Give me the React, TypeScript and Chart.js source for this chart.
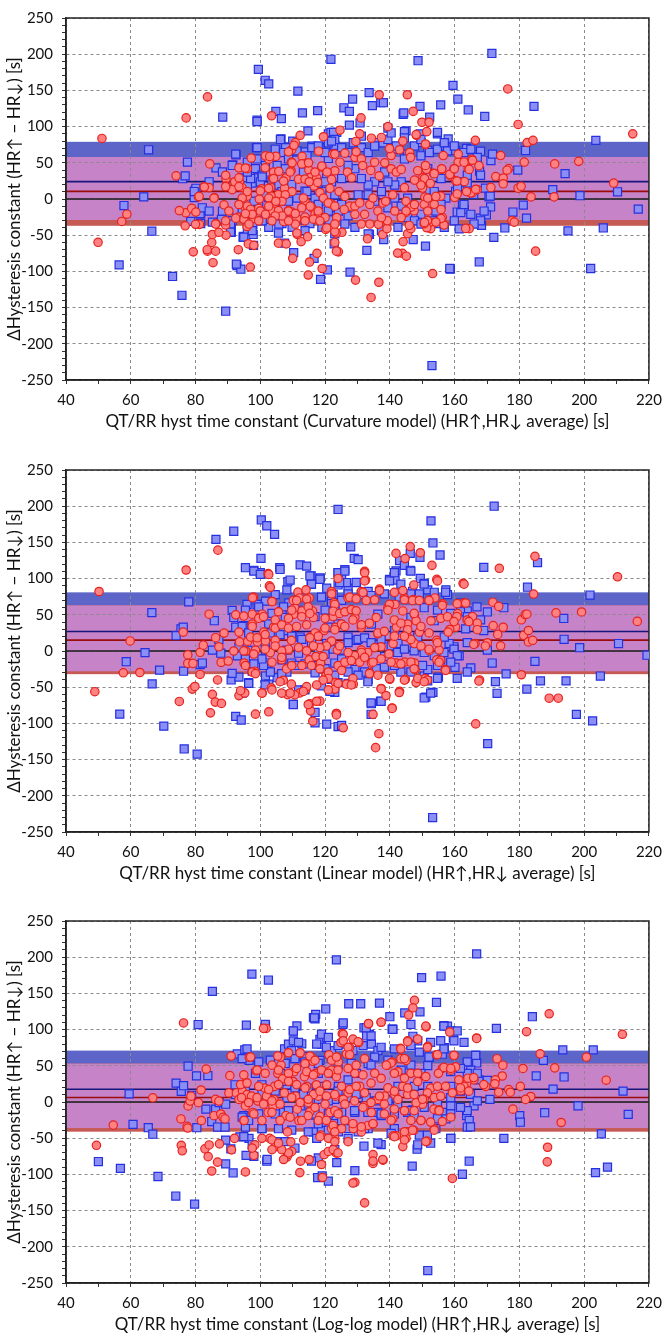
import { useEffect, useRef } from "react";
import { Chart, registerables } from "chart.js";

Chart.register(...registerables);

// ---------- axis definitions ----------
const xMin = 40;
const xMax = 220;
const xMinorStep = 10;
const xLabelStep = 20;
const yMin = -250;
const yMax = 250;
const yMinorStep = 10;
const yLabelStep = 50;

const yTitle = "ΔHysteresis constant (HR↑ − HR↓) [s]";
const models = ["Curvature model", "Linear model", "Log-log model"];

// ---------- limits of agreement / means (per panel) ----------
const blueBands: [number, number][] = [[-29, 79], [-28, 81], [-36, 71]];
const redBands: [number, number][] = [[-37, 58], [-32, 63], [-41, 53]];
const blueMeans = [24, 27, 17.6];
const redMeans = [10.5, 15, 6.3];

// ---------- panel 1: Curvature model ----------
const curvatureBlue: [number, number][] = [
  [121.8,193],[148.7,191],[99.4,179],[101.5,164],[102.6,159],[111.6,149],[133.6,147],[159.5,157],[161,138],[164.2,123],[169.3,114],[128.5,138],[134.6,129],[137.2,133],[138,133],[125.8,126],[127.5,121],[113,119],[117.7,122],[104.8,121],[106.5,111],[99,109],[99,107],[88.4,113],[149.3,128],[155.7,130],[144.1,117],[152.3,113],[127.5,102],[130.8,105],[123.6,92],[114.7,94],[106.4,83],[145,94],[149.4,90],[154.7,90],[158,83],[168,66],[89.3,-155],[92.8,-92],[94,-97],[105.6,-47],[97.8,-49],[94.7,-53],[91,-46],[110.3,-74],[116.6,-82],[120.7,-98],[118.6,-111],[127.7,-101],[122.8,-62],[132.9,-71],[147.2,-56],[151,-65],[158.7,-97],[167.6,-87],[133.7,-49],[138.1,-56],[91,-35],[88.3,-30],[81.6,-21],
  [65.5,68],[64,3],[57.9,-9],[77.5,51],[76,28],[76.8,32],[79.9,12],[79.6,2],[81.4,-20],[86.3,43],[92.5,61],[91.5,47],[98.8,71],[110,80],[121,90],[107.8,71],[111.1,65],[113.8,65],[115.9,73],[118.4,71],[121,56],[123,74],[120.5,29],[97.5,22],[99.2,29],[98.5,42],[100.5,33],[95,29],[96,18],[99.5,-7],[102.6,2],[101.5,-18],[105.5,-3],[109.7,20],[107.2,13],[113.8,11],[117.9,13],[119.4,-3],[122,-12],[81.6,-34],[85.2,-32],[90.3,-25],[91.3,-30],
  [56.4,-91],[66.5,-44.5],[72.9,-107],[75.8,-133],[78.5,-31],[88,-28],[91,-43],[92.6,-90],[94.8,-51.6],[96,-42.7],[97.9,-64],[97.7,-35],[107.5,-61],[106.7,-34],[109.7,-22],[113.8,-29],[115.3,-34],[121.2,-29],
  [171.5,201],[184.5,128],[203.6,81],[181.9,67],[194.1,35],[190.3,13],[198.7,4.5],[210.3,10],[216.7,-14],[179.5,40],[181.2,-8.5],[182.2,-26.5],[178,-18],[171.1,-11],[169.8,-22],[168,-26.5],[170.6,3],[162.4,-8.5],[160.8,-18],[163,-14],[167.7,38.6],[171.2,53],[171.7,62],[163.7,70],[160.3,67],[156.8,73],[154.7,92],[144.3,119],[121.8,92],[139.4,98],[144.5,93],[149.6,78],[151.7,67],[145.5,62],[141.4,69],[136.3,78],
  [153,-230],[158.5,-96],[172.1,-53],[175.5,-40],[195,-44],[205.9,-40],[202,-96],[168.3,-36.5],[154.7,-30],[155.2,-34],[152.1,13],[160.3,10.6],[163.9,21.9],[169.5,15],[171,3.9],[165.9,6],
  [92.4,62],[96,50.8],[99,71],[99,55.3],[101.6,46.3],[104.6,68.7],[106.2,82.2],[107.2,64.2],[108.7,55.3],[107.7,41.8],[105.2,46.3],[103.6,26.1],[100,23.8],[97,28.3],[96,37.3],[91.3,46.3],[88.3,37.3],[84.2,23.8],[80.1,14.8],[79.6,10.3],[82.1,-12.1],[88.3,-16.6],[90.8,-34.6],[94.4,-14.4],[98,-3.1],[101.1,5.8],[105.7,19.3],[106.7,10.3],[111.3,1.3],[114.4,10.3],[115.9,21.6],[113.3,37.3],[114.4,59.7],[115.9,71],[117.9,73.2],[120,64.2],[121,77.7],[122.6,92.1],[123,82.2],[125.1,71],[127.1,64.2],[128.7,77.7],[131.2,71],[133.3,64.2],[135.3,73.2],[137.9,77.7],[139.4,82.2],[142,73.2],[144.5,84.5],[147.6,73.2],[149.6,59.7],[152.2,64.2],[154.7,68.7],[156.8,77.7],[157.8,66.5],[159.9,73.2],[162.9,64.2],[165,68.7],[168,32.8],[167,57.5],[163.9,32.8],[161.9,23.8],[160.9,14.8],[162.9,-7.6],[161.9,-18.9],[157.3,1.3],[153.7,10.3],[155.8,-7.6],[154.2,-16.6],[149.6,-21.1],[145.5,1.3],[143.5,23.8],[141.5,19.3],[139.4,23.8],[138.4,37.3],[135.3,23.8],[133.3,19.3],[131.2,28.3],[129.2,41.8],[127.1,46.3],[125.1,28.3],[122,23.8],[120,23.8],[119,10.3],[116.9,1.3],[117.9,-7.6],[121,-16.6],[124.1,-16.6],[125.1,-7.6],[127.1,-23.4],[130.2,5.8],[133.3,5.8],[135.3,-3.1],[139.4,-12.1],[141.5,1.3],[143.5,-9.9],[145.5,-25.6],[147.6,-30.1],[149.6,-34.6],[142.5,-39.1],[137.4,-43.6],[133.3,-48.1],[129.2,-39.1],[126.1,-34.6],[123,-48.1],[119,-39.1],[113.8,-43.6],[109.8,-39.1],[105.7,-34.6],[102.6,-39.1],[100.6,-30.1],[97.5,-43.6],[94.9,-52.6],[90.8,-45.8],[84.2,-16.6],[169.1,-16.6],[168,-30.1],[166,-34.6],[165,-21.1],[159.9,-30.1],[161.4,-41.3],[156.8,-39.1],[153.2,-30.1],[100.6,30.5],[111.3,66.5],[122,80],[131.2,86.7],[140.4,91.2],[149.6,82.2],[104.1,-3.1],[108.7,-3.1],[123,5.8],[137.4,10.3],[144.5,55.3],[151.7,41.8],[155.8,28.3]
];

const curvatureRed: [number, number][] = [
  [83.7,141],[103.5,115],[136.7,144],[145.4,144],[131.1,112],[139.4,100],[147.2,121],[149.9,106],[152.1,106],[151.4,93],[166.4,81],[112.3,88],[110.8,78],[124.6,95],[130.7,90],[134.3,84],[137.4,85],[148.2,88],[151,75],[144,80],[118,66],[134.2,-136],[129.4,-112],[136.6,-115],[114.8,-105],[119.1,-96],[115.2,-87],[117.5,-75],[110,-82],[153.2,-103],[143.9,-75],[145.1,-79],[124.1,-73],[96.9,-94],[85.4,-88],[79.3,-73],[83.7,-72],[86.2,-72],[93.2,-70],[85,-60],[96.3,-62],[98,-64],[105.6,-61],[108,-62],[112.6,-59],[114.6,-52],[111.4,-49],[123,-60],[125.2,-46],[123.4,-47],[120.2,-42],[133.1,-55],[137.8,-49],[139.1,-41],[136.5,-35],[145.5,-48],[144.1,-59],[152.6,-41],[152.4,-32],[156.7,-36],[164.5,-41],[81.2,-35],[86.3,-34],[89.4,-50],
  [51.1,83.6],[77.1,112],[74,32],[84.4,48.5],[77,-19],[75,-16],[58.8,-21],[57.2,-31],[80.9,3],[82.7,17],[88.8,-8],[85.8,2],[89.4,28],[89.4,18],[94.3,16],[93.6,24],[96,42],[93.4,43],[91.3,13],[100.4,14],[101.5,43],[102.6,55],[104.8,59],[103.2,16],[103.8,29],[107.5,15],[107.9,29],[109.7,68],[109.6,51],[109.5,39],[112.9,59],[113.8,49],[115,40],[115.5,30],[116.6,18],[119.5,86],[119,44],[117.4,29],[118.4,9],[122.4,62],[123,39],[122,27],[105.5,6],[103.3,4],[104.3,-7],[99.7,0],[96,4],[95.4,-12],[97.5,-25],[93.2,-25],[95,-25],[113.8,-3],[115.9,-12],[116.9,-21],[122,-7],
  [49.9,-59.8],[78.8,-13],[80.1,-18],[76.8,-37],[80,-35],[83.6,-70],[85.2,-49],[87.2,-46],[89.3,-36],[95.9,-38],[94.9,-27],[99.5,-13],[103.6,-16],[105.6,-16],[107.2,-31],[108.7,-16],[111.3,-47],[109.7,-18],[111.3,-27],[113.8,-25],[117.9,-20],[120.5,-40],[123,-45],[123.5,-72],
  [176.4,152],[179.6,103],[215,90],[182.4,78],[184.2,81],[174.2,60],[176.7,42],[181.5,51],[190.9,48.5],[198.3,52],[209.1,22],[183.6,3],[190.7,3],[179.6,15],[180.5,17.5],[172.7,31],[175,29],[175,21],[171.2,16],[167.5,46],[165.3,55],[164.2,42],[161.1,51],[159.8,42],[158.7,32],[156.5,60],[156,41],[153.5,35.5],[151.3,41],[150.2,30],[149.7,22.5],[150.8,2.7],[154.3,2.7],[160,2],[160.3,25],[163,24],[165.5,8.5],[148.1,89],[151,76],[143,68],[140.4,60],[129.5,79.5],
  [185,-72],[163.4,-40.6],[177.7,-29.8],[178.4,-32],[151.6,-29.8],[151.4,-39.7],[150.6,-34],[146.5,-41],[146,-36.5],[142.4,-74.7],[176.2,39.8],[167,13],[164.9,8.4],[160.8,7],[155.7,3.9],[156.2,-25.3],[153.7,-7.3],[150.6,-7.3],[150.1,15.1],[147.5,-16.3],[145,-18.6],
  [89.3,32.8],[92.1,23.8],[89.3,17.1],[93.4,29.2],[95.4,42.7],[97.2,56.6],[93.4,17.1],[96,10.3],[94.4,1.3],[93.4,-7.6],[96,-9.9],[97,-14.4],[94.9,-27.9],[98,-27],[100,11.2],[102.6,14.8],[102.6,1.3],[101.6,59.7],[102.9,58.8],[104.1,37.3],[105.7,38.2],[104.1,28.3],[107.2,24.7],[109.2,37.3],[109.8,49.9],[108.7,65.1],[110.4,74.1],[112.8,48.5],[114.9,49.9],[111.8,27.4],[113.8,27.4],[115.1,23.8],[116.9,37.3],[117.7,22.9],[119,45.4],[120.6,37.3],[121.5,14.8],[123,62],[124.6,50.8],[126.1,63.3],[126.9,37.3],[128.2,29.2],[129.2,57.5],[129.6,65.1],[131.2,55.3],[131.6,46.3],[134.1,39.5],[135.3,50.8],[136.7,31.9],[138.4,49.9],[139.9,69.6],[140.4,41.8],[142,37.3],[143.5,40.9],[146.1,64.2],[146.4,57.5],[148.6,39.1],[150.7,28.3],[151,46.3],[153.7,35],[149.6,19.3],[152.5,21.6],[151.7,1.3],[154.2,3.6],[156,41.8],[158.5,34.1],[159.9,41.8],[161.1,62],[162.9,50.8],[164.5,40.9],[165.5,53.5],[166.5,13.5],[163.7,10.3],[160.7,24.7],[109.8,10.3],[107.7,5.8],[106.7,-3.1],[104.8,-3.1],[102.6,-9.9],[100,-16.6],[97.5,-21.1],[95.4,-20.2],[108.7,-16.6],[110.8,-20.2],[112.8,-12.1],[113.3,1.3],[115.4,-9.9],[116.4,-27.9],[117.9,-16.6],[119.5,1.3],[121,-5.4],[123,-9.9],[124.3,10.3],[126.1,3.6],[127.6,-9.9],[129.2,-9.9],[130.7,-5.4],[132.2,-21.1],[133.8,-7.6],[134.8,1.3],[136.3,-16.6],[137.9,-5.4],[138.7,-3.1],[139.2,-30],[137.4,-25.6],[133.8,-34.6],[131.2,-34.6],[129.2,-21.1],[125.9,-14.4],[123.6,-25.6],[123,-34.6],[120,-25.6],[118.4,-30.1],[113.8,-30.1],[110.8,-34.6],[108.7,-30.1],[106.7,-23.4],[104.6,-23.4],[103.6,-30.1],[101.6,-21.1],[99.5,-30.1],[96.5,-34.6],[92.4,-26.5],[90.3,-16.6],[89.3,-30.1],[86.2,-34.6],[85.7,1.3],[84.2,15.7],[82.7,16.6],[81.1,3.6],[145,-3.1],[146.6,-11.2],[147.6,-7.6],[145,-16.6],[143.5,-25.6],[141.5,-16.6],[140.9,5.8],[144.5,15.7],[147.6,26.1],[151.7,-16.6],[155.8,-14.4],[155.8,-27],[154.2,-31.9],[150.7,-32.3]
];

// ---------- panel 2: Linear model ----------
const linearBlue: [number, number][] = [
  [56.6,-87.2],[58.6,-14.8],[64.4,-2.2],[66.5,53],[66.6,-45.4],[68.9,-26.5],[70.2,-103.8],[77.9,67.9],[75.5,30.5],[76.2,32.8],[74,21.1],[76.3,-27.9],[76.5,-135.3],[80.5,-142.5],[81.4,-18.9],[82.1,-16.6],[86.3,154.2],[85.8,41.8],[85.2,1.3],[87.2,15.7],[87.8,-3.1],[91,-40],[93.4,-36],[91.3,-31],[91.8,165.4],[91.3,56.2],[91.8,46.3],[92.4,32.8],[93.4,5.8],[92.9,-6.7],[92.4,-90.3],[94.1,-95.3],
  [95.4,115],[98,111.5],[100,108.3],[100.2,128],[100.3,181],[102,173],[104.4,161],[106,115],[94.9,35],[95.9,64.3],[96.4,-43.6],[97.5,-27.9],[96.2,1.3],[99,64.3],[100.5,46.3],[101.6,68.8],[102.6,37.3],[101.6,1.3],[102.1,-16.6],[99.5,14.8],[101.6,-34.6],[102.6,-45.8],[105.2,-36.9],
  [104.6,77.8],[106.7,55.3],[107.7,46.3],[107.2,28.3],[108.2,1.3],[106.7,-12.1],[109.7,-16.6],[111.8,-3.1],[112.3,19.3],[108.8,66.5],[108.2,84.5],[108.5,95.7],[109.2,98],[112.3,119],[114.3,117.3],[115.7,103.8],[115.7,92.1],[118.5,101],
  [110.2,-73.7],[116.9,-84.9],[116.9,-99.3],[120.5,-101],[118.9,-48],[116.9,-30.1],[118.4,-16.6],[120.5,10.3],[121,32.8],[122.5,77.8],[123,55.3],[120.5,86.7],[124,107.9],[123.5,5.8],[124,-43.6],[123,-57.1],[124,-104.3],[124,195.5],
  [172.2,200],[152.7,179.8],[153.3,149.2],[155.5,132.6],[169,115.5],[185.6,122.2],[182.5,88.1],[201.8,77.3],[193.7,44.9],[193.8,16.2],[210.6,10.3],[198.6,4.5],[219.4,-5.8],[184.8,-14.4],[182.3,-52.6],[186.5,-41.3],[194.4,-41.3],[205,-34.6],[197.6,-87.6],[202.6,-96.6],
  [175.2,59.8],[170.1,53.9],[171.6,-16.6],[172.6,-42.3],[173.1,-58.4],[175.9,-31.5],[170.2,-128],[153.2,-230],[165,-23.4],[160.1,-22.5],[161.4,-6.7],[163.4,30.5],[170.1,1.3],
  [151.1,-63.8],[153.3,-57.1],[151.7,-41.3],[155,-36],[150.6,-34.6],[137.1,-69.7],[134.3,-72.8],[125.1,-102.9],
  [127.9,143.8],[129,128],[130.2,126.3],[126.1,112.4],[125.1,104.7],[129.7,94.8],[124,91.2],[139.9,98.9],[141.9,110.6],[143,125],[144.5,118.2],[146.3,111.5],[141.6,98],[146.3,134.8],[149.3,129.4],[149.4,100.2],
  [150.6,93.5],[151.7,84.5],[157.3,84.5],[157.8,77.8],[161.9,66.5],[163.9,55.3],[169,28.3],[159.8,5.8],[158.3,10.3],[155.7,-12.1],[151.7,-25.6],[156.8,19.3],[131.2,77.8],[133.3,82.2],[127.1,86.7],[122,68.8],[124,37.3],[127.1,19.3],[125.1,1.3],[123,-16.6],[129.2,-25.6],[133.3,-39.1],[138.4,-7.6],[142.5,10.3],[141.5,28.3],[146.5,46.3],[136.3,50.8],[134.3,37.3],[129.7,14.8],[132.2,-7.6],[122,-39.1],[147,82.2],[150.6,59.8],[153.7,41.8],[148.6,19.3],
  [98,110.3],[100,105.8],[106.1,112.6],[115.3,103.6],[118.4,99.1],[115.8,92.3],[124,108.1],[126.1,110.3],[126.6,94.6],[129.6,94.6],[124.5,94.6],[139.9,96.8],[143.4,92.3],[146.5,110.3],[141.4,108.1],[150.6,92.3],[118.9,74.4],[122,65.4],[125.1,69.9],[127.1,78.9],[134.2,76.6],[138.3,78.9],[142.9,74.4],[146.5,78.9],[149.1,78.9],[153.7,81.1],[157.2,81.1],[154.7,56.4],[158.8,51.9],[161.8,54.2],[163.9,47.4],[166.9,60.9],[168,42.9],[120,56.4],[123,60.9],[116.9,47.4],[111.8,56.4],[107.2,60.9],[103.6,51.9],[99.5,60.9],[95.4,56.4],[94.4,33.9],[96.4,24.9],[99.5,7],[101.5,11.5],[103.1,24.9],[106.1,22.7],[109.7,20.5],[112.8,16],[115.8,11.5],[117.9,-2],[120,-4.2],[122.5,2.5],[125.1,-11],[127.1,11.5],[130.2,16],[132.2,18.2],[134.2,11.5],[137.3,16],[140.4,7],[142.4,-2],[144.5,2.5],[147.5,0.2],[150.6,-2],[153.7,-6.5],[156.7,-2],[159.8,2.5],[163.9,11.5],[160.8,-6.5],[158.8,-15.5],[154.7,-20],[150.1,-20],[146.5,-29],[143.4,-29],[141.4,-20],[138.3,-22.2],[135.8,-24.5],[132.2,-29],[130.2,-33.4],[127.1,-29],[123,-33.4],[120,-24.5],[116.9,-20],[113.8,-17.7],[111.2,-20],[108.2,-29],[106.6,-31.2],[103.1,-29],[101,-20],[100.5,-11],[98,-17.7],[95.4,-11],[96.4,-44.7],[94.4,-58.2],[101.5,-46.9],[111.8,-53.7],[113.8,-53.7],[121.5,-55.9],[127.1,-44.7],[133.2,-42.4],[134.2,-71.6],[137.3,-69.4],[134.2,-87.4],[150.6,-64.9],[152.6,-58.2],[163.9,-29],[154.7,-37.9],[160.8,-37.9],[110.2,-73.9]
];

const linearRed: [number, number][] = [
  [50.2,82.2],[48.9,-56.2],[57.7,-30.1],[59.8,13.9],[62.8,-29.7],[77.1,111.9],[76.2,26.1],[75,-69.7],[77.6,-5.4],[77.6,-17.1],[79.2,-17.1],[79,-52.6],[79.8,-49],[84.6,-85.4],[85.2,-59.8],[86.1,-70.6],[86.8,-40],[88,-72.4],[81.4,-1.8],[81.4,-32.4],[82.4,8.1],[84.2,50.8],[87.2,5.8],[86.2,18.4],[86.9,139.3],[87.9,-15.7],[90.1,-13.9],[88.8,24.7],[91.8,0],[93.4,26.1],[93.6,12.6],
  [92.4,49.9],[95,-16.6],[95.5,0],[96.1,13.5],[97,19.3],[97.5,37.3],[97.9,74.6],[97.5,50.8],[98.5,1.3],[98.3,-27.9],[93.4,-61.6],[95.2,-58],[93.9,-54.8],[98.5,-87.2],
  [99.1,12.6],[99.7,46.3],[100.6,50.8],[101.1,26.1],[101.6,13.9],[102.4,107],[102.8,89.9],[103.6,68.8],[104.1,32.8],[104.6,14.8],[103.1,-2.2],[103.4,-50.8],[100.6,-58],[102.6,-84],
  [106.6,-12.1],[107.1,-40.4],[108.1,-24.7],[108.4,-60.2],[108.8,1.3],[109.6,14.8],[110.3,50.8],[110.6,59.8],[111.6,81.3],[112.1,73.3],[112.9,55.3],[114.1,84.5],[115.1,73.3],[116.1,55.3],[116.4,46.3],[115.4,19.3],[115.1,-12.1],[117.2,-7.6],[118.6,-16.6],[118.4,-69.2],[116.2,-97],[115.5,-82.7],[115.3,-72.8],[114.1,-52.6],[112.1,-58],[110.6,-60.7],[109.6,-45.8],
  [119.7,28.3],[119.4,-7.6],[120.2,-34.6],[121.4,11.7],[122,82.2],[122.5,47.6],[122.8,66.5],[123.2,32.8],[123.8,1.3],[123.2,-43.6],[123.5,-86.3],[124,100.2],
  [184.8,130.8],[184.4,78.7],[173.8,114.2],[210.3,102.5],[216.4,40.9],[191.3,52.6],[199.2,53.9],[180.6,43.1],[181.8,50.3],[182.3,50.8],[181.3,21.6],[182.8,28.3],[182.8,12.6],[184.1,14.8],[180.6,-32.8],[189.2,-65.2],[192,-65.2],[166.5,-100.7],
  [162.6,93.5],[171.8,67.4],[173.6,61.6],[171.9,35],[175,32.8],[174.2,7.2],[173.3,22.9],[170.1,11.2],[166.3,10.3],[167.7,-40],
  [162.9,66.5],[165.5,47.6],[163.9,42.7],[160.9,51.7],[160.7,47.6],[160.3,32.8],[158.5,29.7],[158,26.1],[157.1,-25.6],[156.3,65.2],
  [155.2,1.3],[154.5,-12.1],[155.7,-13],[154.5,14.8],[152.7,41.8],[152.2,69.7],[153.9,73.3],[154.5,98.9],[153,118.2],
  [149.4,135.7],[146.3,144.3],[144.7,127.6],[141.9,134.8],[147.4,91.2],[147.3,71],[147.6,49.9],[148.1,41.8],[149.1,26.1],[147.1,12.6],[147.6,-16.6],[147.8,-25.6],[148.1,-43.6],[150.9,-38.2],[152.2,0.4],[147.6,10.3],[144.8,-39.1],[143,-55.7],[140.7,-78.7],[136.6,-114.2],[135.6,-133.5],[134.8,-87.6],[137.3,-51.7],[125.6,-106.1],[123.5,-86.3],[140,-39],
  [132.2,110.1],[132.5,98],[136.8,85.4],[131.2,82.2],[127.1,73.3],[123,64.3],[125.1,37.3],[129.2,46.3],[131.2,32.8],[135.8,46.3],[136.3,23.8],[139.4,59.8],[141.6,64.3],[142,32.8],[144.5,73.3],[144,55.3],[145.5,37.3],[137.3,5.8],[134.3,-16.6],[131.2,1.3],[128.2,-12.1],[125.1,-25.6],[123,-52.6],[126.6,-45.8],[128.7,-45.8],[133.8,-30.1],[138.8,-61.6],[145.5,19.3],[141,10.3],[139.7,-4],[142,-16.6],[144.5,-15.3],
  [97.6,73.5],[103.6,68.1],[110.2,69.9],[114.3,71.7],[111.2,69.9],[114.8,60.9],[109.7,56.4],[105.6,54.2],[99.5,45.2],[94.9,48.3],[101,47.4],[104.6,42.9],[108.7,45.2],[112.8,47.4],[115.3,51.9],[120,45.2],[122.5,55],[124.5,51.9],[126.1,54.2],[128.1,57.3],[129.6,55.5],[131.7,81.1],[132.7,69.9],[135.3,70.8],[136.8,83.4],[141.4,81.1],[144,83.4],[139.9,64.5],[144.5,70.8],[147,69.9],[149.1,69.9],[152.1,69.9],[156.2,63.1],[160.8,65.4],[163.4,66.3],[122,78.9],[127.6,74.4],[129.6,72.1],[97.5,33.9],[99,18.2],[101.5,22.7],[104.6,31.7],[106.6,36.2],[108.7,31.7],[111.2,33.9],[114.3,36.2],[116.9,24.9],[117.9,20.5],[115.3,18.2],[120,31.7],[123,29.4],[126.1,33.9],[128.6,42.9],[131.2,36.2],[133.7,38.4],[136.3,24.9],[139.4,56.4],[141.4,42.9],[143.4,38.4],[145.5,29.4],[147.5,51.9],[149.6,33.9],[152.1,24.9],[155.7,45.2],[157.8,47.4],[159.8,40.7],[164.4,40.7],[167,38.4],[167,29.4],[169.5,7],[165.9,9.2],[154.7,11.5],[152.1,2.5],[149.6,7],[146.5,16],[144.5,20.5],[141.4,20.5],[138.3,27.2],[135.3,4.7],[133.2,-2],[131.2,-2],[129.1,-6.5],[127.1,-2],[124.5,7],[122,13.7],[120.4,7],[118.4,4.7],[116.4,7],[114.3,0.2],[111.8,4.7],[108.7,2.5],[106.6,0.2],[104.6,7],[101.5,2.5],[98,-4.2],[94.9,0.2],[95.4,-20],[97.5,-29],[98.5,-31.2],[103.6,-15.5],[106.6,-8.7],[109.7,-20],[112.8,-20],[115.8,-20],[118.4,-24.5],[121,-29],[124,-20],[126.1,-15.5],[128.1,-13.2],[130.7,-15.5],[132.2,-8.7],[134.8,-15.5],[137.3,-11],[140.4,-15.5],[143.4,-17.7],[146.5,-15.5],[147.5,-24.5],[151.6,-40.2],[155.2,-15.5],[157.2,-26.7],[144.5,-40.2],[139.9,-37.9],[136.3,-33.4],[133.7,-31.2],[128.6,-37.9],[125.1,-26.7],[121,-37.9],[119.4,-40.2],[117.4,-46.9],[114.3,-49.2],[124,-44.7],[121,-53.7],[106.1,-42.4],[103.6,-53.7],[100.5,-58.2],[109.2,-58.2],[106.6,-58.2],[113.3,-55.9],[114.8,-73.9],[117.4,-69.4],[123.5,-88.3],[128.1,-46.9],[137.3,-52.3],[142.9,-57.3],[140.7,-79.3],[148.6,-37.9],[150.6,-42.4],[154.7,96.8],[162.9,92.3],[102.6,105.8],[132.2,108.1],[132.2,96.8],[103.1,87.9],[167.5,-41.5]
];

// ---------- panel 3: Log-log model ----------
const loglogBlue: [number, number][] = [
  [50,-82.2],[56.8,-91.7],[59.5,11.2],[60.7,-31],[65.4,-35.5],[66.8,-44.5],[68.4,-102.9],[73.9,-129.9],[79.7,-141.1],[74,26.1],[75.6,14.8],[76.3,22.5],[77.7,49.4],[78.8,9],[80.3,36],[83.8,36.4],[80.4,-35.5],
  [85.2,152.8],[80.8,107],[95.7,106.1],[97.4,176.6],[102.5,168.5],[101.6,106.1],
  [83.2,-9.9],[85,-27],[86.8,-34.6],[86.2,-9.9],[87.3,-0.9],[89.3,-3.1],[89.1,-34.6],[89.3,-52.6],[90.9,-64.7],[89.3,-85.4],[91.6,-98],[93.7,-48.1],[96.5,-50.3],[98,-75.1],[95.6,-73.7],[95.4,-34.6],[94.9,-18.9],[92.4,10.3],[92.2,23.8],[92.9,66.5],[95.2,71.9],[96.5,57.5],
  [98.5,39.6],[100.5,23.8],[101.6,3.6],[100.5,-36.9],[102,-81.8],[105.1,-54.8],[105.6,-36.9],[107.7,-54.8],[107.2,-14.4],[108.2,5.8],[108.2,23.8],[106.2,39.6],[105.6,53],[107.5,73.3],[108.7,80],[109.7,71],[110.2,98],[110.2,84.5],[111.3,105.2],[112.8,80.4],[113.6,62.5],[114.8,19.3],[115.9,3.6],[116.4,-18],[116.4,-41.3],[117.4,-50.3],[117.7,-104.3],[119.1,-102],[117.9,-77.3],[118.9,-39.1],[119.4,-23.4],[118.1,21.6],[117.9,39.6],[118.4,57.5],[118.9,79.8],[118.4,86.5],[116.9,114.8],[116.4,116.6],[117.1,121.1],[120.5,89],[120.2,128.5],[121.2,71],[122,39.6],[122.5,3.6],[123,-18.9],[123.5,196.4],
  [166.8,204.5],[149.8,171.7],[155.8,174],[127.3,135.7],[131,135.7],[136.8,136.6],[154.4,137.5],[140,117.8],[144.6,123.1],[149.3,124.5],[125.5,107],
  [172.9,101.6],[184,117.8],[156.7,105.6],[140.7,100.7],
  [193.4,71.9],[202.8,71.9],[187.4,57.5],[185.2,36],[193.8,34.6],[190.4,17.8],[212,15.1],[213.6,-17.1],[198.1,-5.4],[187.8,-14.8],[180.1,-18.9],[180.3,-27.9],[175.2,-50.3],[205.3,-44],[203.5,-97.5],[207.2,-89.9],
  [164.5,-81.8],[162.4,-99.8],[151.7,-232.8],[146.9,-88.5],[148.4,-65.2],[158.8,-50.3],
  [166.5,64.3],[166.8,53.9],[165,44],[163.9,39.6],[167.5,30.6],[170.1,29.7],[170.9,3.6],[166,-5.4],[163.7,-18.9],[164.5,-25.6],[163.9,-34.6],[158.8,-5.4],[156.2,-14.4],[154.2,-36.9],[157.3,-23.4],[149.1,-45.8],[147.1,-10.8],[148.6,3.6],[137.3,-58.9],[132,-61.1],[129.2,-94.8],[121,-109.2],
  [157.8,104.7],[159.6,88.5],[156.8,75],[156.2,66],[152.2,61.6],[151.7,50.3],[146.5,79.6],[147.1,90.8],[148.6,84.5],[140.9,100.2],[133.7,93.5],[134.3,80],[132,102.5],[132.8,91.2],[125.1,80],[122,71],[136.3,71],[135.3,62],[133.3,53],[129.7,39.6],[127.1,30.6],[124.1,21.6],[123,3.6],[125.1,-14.4],[129.2,-14.4],[132.2,-5.4],[136.3,-14.4],[139.4,3.6],[142.5,21.6],[143.5,44],[147.6,21.6],[149.6,39.6],[151.7,21.6],[158.8,21.6],[145.5,-14.4],[141.4,-36.9],[137.3,-18.9],[133.3,-36.9],[130.2,-41.3],[127.1,-50.3],[124.1,-41.3],[122.5,-14.4],
  [101.5,107.1],[110.2,98.1],[116.7,116.1],[118.9,93.6],[121,89.1],[125.6,109.3],[134.2,91.3],[132.7,102.6],[140.9,100.3],[146.5,107.1],[156.7,104.8],[158.8,98.1],[160.8,98.1],[155.7,84.6],[111.8,82.4],[117.4,80.1],[120.4,75.6],[124,77.9],[128.6,71.1],[131.7,77.9],[137.3,75.6],[141.4,73.4],[146.5,77.9],[149.1,68.9],[152.6,82.4],[156.7,73.4],[159.8,84.6],[162.9,82.4],[166.5,64.4],[163.9,55.4],[95.9,73.4],[94.4,59.9],[99.5,55.4],[103.1,57.7],[107.7,53.2],[110.7,59.9],[113.8,55.4],[117.9,53.2],[124,50.9],[128.1,53.2],[134.2,50.9],[139.4,57.7],[146.5,50.9],[152.1,62.1],[158.8,41.9],[161.8,46.4],[167,39.7],[95.4,15],[97.5,6],[100.5,10.5],[104.6,15],[107.7,28.5],[110.7,19.5],[113.3,10.5],[114.8,-3],[117.9,3.7],[121,1.5],[124,15],[127.1,6],[129.6,10.5],[132.7,6],[135.8,1.5],[139.4,1.5],[142.4,-3],[146.5,-12],[150.6,-7.5],[154.7,-3],[158.8,6],[161.8,15],[164.9,10.5],[167,1.5],[163.9,-12],[161.8,-7.5],[158.8,-16.5],[154.7,-23.2],[147.5,-21],[141.4,-16.5],[137.3,-16.5],[133.2,-14.2],[129.1,-12],[125.1,-25.5],[121,-16.5],[116.9,-16.5],[112.8,-16.5],[108.7,-12],[104.6,-16.5],[99.5,-16.5],[96.4,-25.5],[94.4,-21],[94.9,-47.9],[97.5,-59.1],[100.5,-36.7],[109.7,-38.9],[114.8,-41.2],[117.9,-30],[121,-38.9],[127.1,-36.7],[132.2,-36.7],[136.3,-56.9],[140.4,-43.4],[148.6,-59.1],[152.6,-56.9],[158.8,-50.2],[164.9,-34.4],[151.6,-45.7],[123,-65.9],[110.7,-63.6],[102.1,-79.4],[115.8,-81.6],[123.6,-83.8]
];

const loglogRed: [number, number][] = [
  [49.4,-59.8],[54.6,-31.9],[66.8,5.8],[76.3,109.2],[75.6,-59.8],[75.9,-67.4],[75.5,-23.4],[77.4,-33.7],[77.6,-36],[77.7,-5.4],[78.3,1.3],[78.6,8.1],[81.7,16.6],[80.9,-0.9],[81.8,-25.6],[83.3,45.4],
  [82.9,-64.7],[83.9,-75.5],[84.2,-59.3],[85,-95.3],[86.8,-83.1],[87.4,-57.8],[86.2,3.6],[87.2,1.3],[85.7,-18.9],[87.8,-16.6],[88.5,-21.1],[89.1,-23.4],[90.3,12.6],[91.1,-66.1],[91,63.4],[90.6,36.4],[92.6,12.6],[93.4,3.6],[94.5,14.8],
  [92,-50.3],[95.4,-96.6],[96.6,61.6],[95.6,27],[95.9,10.3],[95.4,-5.4],[94.9,-25.6],[97.3,8.1],[97.7,-14.4],[98.3,-59.3],[98,-73.7],[98.7,43.1],[99.3,1.3],
  [101.8,101.6],[101.4,19.3],[101.9,8.1],[102.4,-14.4],[102.9,-50.3],[103.9,-5.4],[104.6,-61.6],[104.2,3.6],[104.4,21.6],[105.4,39.6],[106.4,50.8],[106.2,62],[106.9,31.9],[107.4,12.6],[107.9,-18.9],[108.4,-41.3],[108.2,-76],[108.6,-72.8],[109.7,-68.3],[109.4,-55],[110.1,28.3],[110.4,41.8],[110.9,8.1],[111.4,-9.9],[111.9,-25.6],[112.2,-97.5],[112.4,-81.8],[113.4,-52.6],
  [112.3,67.4],[113.8,53],[113.6,35],[114.3,21.6],[114.8,-0.9],[115.3,-13.5],[115.8,62],[116.3,56.2],[117,39.6],[117.3,23.8],[117.9,8.1],[118.4,-19.8],[118.7,-45.8],[118.9,-86.3],[119.2,-104.3],[119.7,-72.8],[120.5,23.8],[121,41.8],[121.2,65.2],[121.5,-14.4],[122,-36.9],[122.9,-68.3],[123,-50.3],[123.2,8.1],[123.5,35],[123.7,62],
  [189.2,121.8],[182.2,97.1],[211.8,93.5],[166.8,88.5],[186.4,66.5],[200.7,62],[190.9,47.2],[206.8,30.1],[181.1,46.3],[173.6,13.5],[178,-9.9],[183.5,7.6],[181.9,3.6],[192.9,-28.3],[188.7,-62.5],[188.6,-82.7],[159.3,-105.6],
  [173.1,59.8],[174.9,50.8],[174.7,35.9],[172.6,30.6],[172.4,25.2],[169.6,21.6],[176.7,17.1],[177.2,13.5],[180.3,21.6],[166,30.6],[163.7,25.2],[162.9,21.6],[161.9,15.7],
  [147.6,140.3],[147.1,130],[145.8,120.1],[151.2,103.8],[158.5,96.6],[159.8,64.3],[154.4,65.2],[151.7,76.9],[145.5,84.5],[143.3,74.2],[140.7,55.3],[137.3,110.1],[133.4,107.9],[130.4,82.2],[125.3,94.4],[124.9,82.2],[127.6,75.5],[126.6,66.5],[124.1,55.3],[122,44],
  [160.3,48.5],[158.8,44],[156.2,46.3],[155,39.6],[152.6,19.3],[151.6,12.6],[150.6,3.6],[150.1,-3.1],[153.6,-9.9],[156.2,-27],[155.2,-10.8],[151.5,-54],[153.7,-36.9],[149.6,-25.6],[147.4,-39.1],[145.5,-41.3],[145,-50.3],[144,-61.6],[142,-46.7],[141,-46.7],[137.9,-80.4],[134.8,-84.9],[132.2,-139.3],[129.2,-111],[128.6,-111.9],[127.1,-54.8],[123.5,-70.6],[121,-68.3],
  [145.5,10.3],[144,21.6],[142.5,41.8],[141.5,10.3],[139.4,50.8],[137.3,32.8],[136.3,3.6],[134.3,-14.4],[132.2,-5.4],[130.7,21.6],[129.2,39.6],[127.1,12.6],[125.6,3.6],[124,-14.4],[122.5,-32.4],[125.1,-36.9],[128.7,-36.9],[131.2,-41.3],[133.3,-32.4],[134.8,-30.1],[138.4,8.1],[140.9,-23.4],[142.5,3.6],[144.5,-12.1],[148.1,-0.9],[148.6,28.3],[146.5,39.6],[145,57.5],
  [101,101.7],[97,62.1],[105.4,63.5],[108.7,68],[112.3,68],[115.3,63.5],[116.9,57.7],[122,57.7],[123.5,62.1],[125.6,93.6],[125.6,84.6],[127.1,75.6],[128.6,86.9],[130.2,83.3],[127.6,65.3],[132.2,59.9],[133.4,108.4],[137.3,110.2],[140.4,54.1],[143.4,59.9],[143.4,73.4],[145.5,83.3],[144.5,59.9],[148.6,86.9],[151.6,75.6],[151.1,104.8],[154.7,65.3],[156.7,47.8],[158.8,46.4],[159.8,64.4],[166.8,87.8],[164.1,32.9],[165.9,33.8],[169,24],[99,44.2],[101.5,39.7],[103.6,50.9],[105.6,44.2],[108.7,39.7],[111.2,46.4],[114.3,41.9],[116.4,37.4],[118.9,44.2],[121,39.7],[124,44.2],[127.1,46.4],[129.6,50.9],[131.7,37.4],[135.3,39.7],[138.9,50.9],[141.4,39.7],[144.5,33],[148.6,39.7],[151.1,35.2],[154.7,21.7],[157.2,21.7],[161.3,30.7],[164.4,15],[94.9,37.4],[93.9,24],[95.9,26.2],[99.5,21.7],[102.6,17.2],[105.6,24],[108.7,28.5],[111.2,24],[113.8,19.5],[116.4,10.5],[118.4,15],[120.4,8.2],[123,10.5],[125.1,21.7],[127.6,17.2],[129.6,21.7],[132.2,12.7],[134.2,26.2],[136.8,8.2],[139.4,19.5],[141.4,15],[145.5,19.5],[147.5,10.5],[150.1,3.7],[153.7,6],[155.7,8.2],[159.3,12.7],[161.8,19.5],[94.2,6],[96.4,-0.7],[99,6],[101,-3],[103.6,1.5],[106.1,-3],[109.7,6],[112.3,-0.7],[114.8,3.7],[116.9,-7.5],[120,-3],[123,-12],[126.1,-3],[129.1,1.5],[131.7,-7.5],[134.2,-0.7],[138.3,-3],[141.4,-9.7],[144.5,-12],[147.5,-12],[95,-25.5],[98,-16.5],[100.5,-25.5],[103.6,-14.2],[106.1,-25.5],[109.2,-21],[112.8,-25.5],[114.8,-18.7],[117.9,-25.5],[120.4,-25.5],[124,-16.5],[126.1,-25.5],[128.6,-30],[131.2,-34.4],[134.8,-30],[138.3,-16.5],[140.4,-25.5],[146.5,-25.5],[149.6,-25.5],[152.6,-27.7],[155.2,-12],[158.8,-21],[153.7,-38.9],[147,-38.9],[144.5,-41.2],[141.4,-47.9],[151.1,-54.7],[144.5,-52.4],[134.8,-72.6],[137.8,-79.4],[134.8,-81.6],[123,-41.2],[121,-50.2],[118.4,-47.9],[123,-54.7],[122.5,-65.9],[124,-70.4],[115.1,-79.4],[108.7,-70.4],[106.6,-65.9],[107.2,-79.4],[103.6,-52.4],[105.6,-56.9],[100.5,-50.2],[97.5,-63.6],[103.6,-65.9]
];

const panelBlue = [curvatureBlue, linearBlue, loglogBlue];
const panelRed = [curvatureRed, linearRed, loglogRed];

// ---------- styling ----------
const FONT = "Lato, 'Noto Sans', sans-serif";
const BLUE_ONLY = "#5d65c9";
const RED_ONLY = "#c65a55";
const OVERLAP = "#c783c8";
const PANEL_H = 452;
const PANEL_TOPS = [0, 452, 903];

const bandsPlugin = {
  id: "bands",
  beforeDraw(chart: any, _a: any, opts: any) {
    const { ctx, chartArea: a, scales } = chart;
    const y = scales.y;
    const fill = (lo: number, hi: number, c: string) => {
      if (hi <= lo) return;
      const t = y.getPixelForValue(hi);
      const b = y.getPixelForValue(lo);
      ctx.fillStyle = c;
      ctx.fillRect(a.left, t, a.right - a.left, b - t);
    };
    ctx.save();
    fill(opts.blue[0], opts.blue[1], BLUE_ONLY);
    fill(opts.red[0], opts.red[1], RED_ONLY);
    fill(Math.max(opts.blue[0], opts.red[0]), Math.min(opts.blue[1], opts.red[1]), OVERLAP);
    ctx.restore();
  },
  beforeDatasetsDraw(chart: any, _a: any, opts: any) {
    const { ctx, chartArea: a, scales } = chart;
    const y = scales.y;
    const hline = (v: number, c: string, w: number) => {
      const p = y.getPixelForValue(v);
      ctx.strokeStyle = c;
      ctx.lineWidth = w;
      ctx.beginPath();
      ctx.moveTo(a.left, p);
      ctx.lineTo(a.right, p);
      ctx.stroke();
    };
    ctx.save();
    hline(opts.blueMean, "#16167a", 1.6);
    hline(opts.redMean, "#9a0c0c", 1.6);
    hline(0, "#1a1a1a", 1.6);
    ctx.strokeStyle = "#222";
    ctx.lineWidth = 1.5;
    ctx.strokeRect(a.left, a.top, a.right - a.left, a.bottom - a.top);
    ctx.restore();
  },
};

function Panel({ index }: { index: number }) {
  const ref = useRef<HTMLCanvasElement | null>(null);
  useEffect(() => {
    if (!ref.current) return;
    const toPts = (arr: [number, number][]) => arr.map(([x, y]) => ({ x, y }));
    const chart = new Chart(ref.current, {
      type: "scatter",
      data: {
        datasets: [
          {
            label: "HR red",
            data: toPts(panelRed[index]),
            pointStyle: "circle",
            pointRadius: 4.2,
            backgroundColor: "#ff8181",
            borderColor: "#e5231f",
            borderWidth: 1.2,
            order: 0,
          },
          {
            label: "HR blue",
            data: toPts(panelBlue[index]),
            pointStyle: "rect",
            pointRadius: 5.7,
            backgroundColor: "#8b8ef4",
            borderColor: "#2530e0",
            borderWidth: 1.2,
            order: 1,
          },
        ],
      } as any,
      options: {
        animation: false,
        responsive: false,
        events: [],
        layout: { padding: { top: 9, right: 16, left: 0, bottom: 0 } },
        plugins: {
          legend: { display: false },
          tooltip: { enabled: false },
          bands: {
            blue: blueBands[index],
            red: redBands[index],
            blueMean: blueMeans[index],
            redMean: redMeans[index],
          },
        } as any,
        scales: {
          x: {
            type: "linear",
            min: xMin,
            max: xMax,
            afterFit: (s: any) => { s.height = PANEL_H - 380; },
            ticks: {
              stepSize: xMinorStep,
              autoSkip: false,
              maxRotation: 0,
              padding: 7,
              color: "#111",
              font: { family: FONT, size: 15 },
              callback: (v: any) => (Number(v) % xLabelStep === 0 ? String(v) : ""),
            },
            grid: {
              color: (c: any) => (c.tick && c.tick.value % xLabelStep === 0 ? "#8a8a8a" : "rgba(0,0,0,0)"),
              tickColor: "#333",
              tickLength: 4,
              lineWidth: 1,
            },
            border: { display: true, color: "#222", width: 1.5, dash: [3, 3] },
            title: {
              display: true,
              text: `QT/RR hyst time constant (${models[index]}) (HR↑,HR↓ average) [s]`,
              color: "#111",
              font: { family: FONT, size: 17, lineHeight: 1.2 },
              padding: { top: 0, bottom: 20 },
            },
          },
          y: {
            type: "linear",
            min: yMin,
            max: yMax,
            afterFit: (s: any) => { s.width = 66; },
            ticks: {
              stepSize: yMinorStep,
              autoSkip: false,
              padding: 9,
              color: "#111",
              font: { family: FONT, size: 15 },
              callback: (v: any) => (Number(v) % yLabelStep === 0 ? String(v) : ""),
            },
            grid: {
              color: (c: any) => (c.tick && c.tick.value % yLabelStep === 0 ? "#8a8a8a" : "rgba(0,0,0,0)"),
              tickColor: "#333",
              tickLength: 4,
              lineWidth: 1,
            },
            border: { display: true, color: "#222", width: 1.5, dash: [3, 3] },
            title: {
              display: true,
              text: yTitle,
              color: "#111",
              font: { family: FONT, size: 17, lineHeight: 1.2 },
              padding: { top: 4, bottom: 0 },
            },
          },
        },
      } as any,
      plugins: [bandsPlugin as any],
    });
    return () => chart.destroy();
  }, [index]);
  return (
    <canvas
      ref={ref}
      width={669}
      height={PANEL_H}
      style={{ position: "absolute", left: 0, top: PANEL_TOPS[index], width: 669, height: PANEL_H }}
    />
  );
}

export default function App() {
  return (
    <div
      style={{
        position: "absolute",
        left: 0,
        top: 0,
        width: 669,
        height: 1339,
        overflow: "hidden",
        background: "#fff",
      }}
    >
      {[0, 1, 2].map((i) => (
        <Panel key={i} index={i} />
      ))}
    </div>
  );
}
